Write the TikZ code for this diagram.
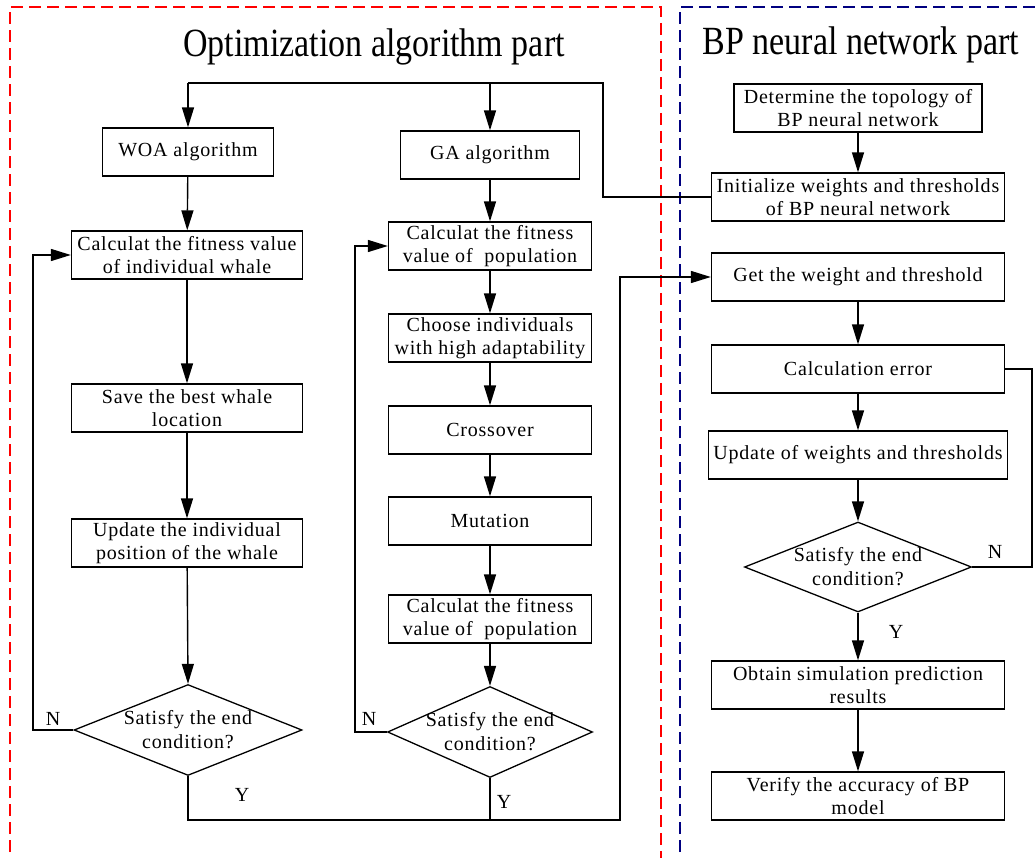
\documentclass[tikz,border=0pt]{standalone}
\usepackage{fontspec}
\setmainfont{Liberation Serif}[LetterSpace=4]
\newfontfamily\titlefont{Liberation Serif}[FakeStretch=0.85]
\usetikzlibrary{arrows.meta,shapes.geometric}
\begin{document}
\begin{tikzpicture}[x=1pt,y=-1pt,
  box/.style={draw,line width=1.3pt,minimum height=48pt,inner sep=0pt,align=center,font=\fontsize{20}{23}\selectfont},
  dia/.style={draw,diamond,line width=1.3pt,inner sep=0pt,minimum width=228pt,minimum height=91pt},
  dtext/.style={align=center,font=\fontsize{20}{24}\selectfont},
  conn/.style={line width=1.4pt},
  arr/.style={conn,-{Triangle[length=20pt,width=12pt]}},
  lab/.style={font=\fontsize{20}{22}\selectfont,inner sep=0pt},
  title/.style={font=\titlefont\fontsize{40}{44}\selectfont,inner sep=0pt}]
\useasboundingbox (0,0) rectangle (1036,858);
\clip (0,0) rectangle (1036,858);
% part frames
\draw[red,line width=1.4pt,dash pattern=on 12pt off 6pt] (10,870) -- (10,7) -- (661,7) -- (661,870);
\draw[blue!50!black,line width=1.4pt,dash pattern=on 12pt off 6pt] (680,870) -- (680,7) -- (1045,7);
\node[title] (t1) at (374,47) {Optimization algorithm part};
\node[title] (t2) at (861,45) {BP neural network part};
% WOA column
\node[box,minimum width=171pt] (woa) at (188,152) {WOA algorithm};
\node[box,minimum width=231pt] (wc) at (187,255) {Calculat the fitness value\\of individual whale};
\node[box,minimum width=231pt] (ws) at (187,408) {Save the best whale\\location};
\node[box,minimum width=231pt] (wu) at (187,543) {Update the individual\\position of the whale};
\node[dia] (wd) at (188,730) {};
\node[dtext] (wdt) at (188,730) {Satisfy the end\\condition?};
% GA column
\node[box,minimum width=179pt] (ga) at (490,155) {GA algorithm};
\node[box,minimum width=203pt] (gc) at (490,246) {Calculat the fitness\\value of\ \ population};
\node[box,minimum width=203pt] (gch) at (490,338) {Choose individuals\\with high adaptability};
\node[box,minimum width=203pt] (gx) at (490,430) {Crossover};
\node[box,minimum width=203pt] (gm) at (490,521) {Mutation};
\node[box,minimum width=203pt] (gc2) at (490,619) {Calculat the fitness\\value of\ \ population};
\node[dia,minimum width=205pt] (gd) at (490,732) {};
\node[dtext] (gdt) at (490,732) {Satisfy the end\\condition?};
% BP column
\node[box,minimum width=248pt] (top) at (858,108) {Determine the topology of\\BP neural network};
\node[box,minimum width=293pt] (ini) at (858,197) {Initialize weights and thresholds\\of BP neural network};
\node[box,minimum width=293pt] (get) at (858,277) {Get the weight and threshold};
\node[box,minimum width=293pt] (err) at (858,369) {Calculation error};
\node[box,minimum width=299pt] (upd) at (858,455) {Update of weights and thresholds};
\node[dia,minimum width=227pt,minimum height=90pt] (bd) at (858,567) {};
\node[dtext] (bdt) at (858,567) {Satisfy the end\\condition?};
\node[box,minimum width=293pt] (obt) at (858,685) {Obtain simulation prediction\\results};
\node[box,minimum width=293pt] (ver) at (858,796) {Verify the accuracy of BP\\model};
% top distribution line
\coordinate (c1) at (188,83);
\coordinate (c2) at (603,83);
\draw[conn] (ini.west) -| (c2) -- (c1);
\draw[arr] (c1) -- (woa.north);
\draw[arr] (ga.north |- c1) -- (ga.north);
% WOA flow
\draw[arr] (woa) -- (wc);
\draw[arr] (wc) -- (ws);
\draw[arr] (ws) -- (wu);
\draw[arr] (wu) -- (wd.north);
\coordinate (wn) at (33,730);
\draw[arr] (wd.west) -- (wn) |- (wc.west);
\node[lab] (wN) at (53,719) {N};
% GA flow
\draw[arr] (ga) -- (gc);
\draw[arr] (gc) -- (gch);
\draw[arr] (gch) -- (gx);
\draw[arr] (gx) -- (gm);
\draw[arr] (gm) -- (gc2);
\draw[arr] (gc2) -- (gd.north);
\coordinate (gn) at (355,732);
\draw[arr] (gd.west) -- (gn) |- (gc.west);
\node[lab] (gN) at (369,719) {N};
% Y join to BP
\coordinate (b1) at (188,820);
\coordinate (b2) at (620,820);
\draw[arr] (wd.south) -- (b1) -- (b2) |- (get.west);
\draw[conn] (gd.south) -- (gd.south |- b1);
\node[lab] (wY) at (242,795) {Y};
\node[lab] (gY) at (504,802) {Y};
% BP flow
\draw[arr] (top) -- (ini);
\draw[arr] (get) -- (err);
\draw[arr] (err) -- (upd);
\draw[arr] (upd) -- (bd.north);
\draw[arr] (bd.south) -- (obt);
\draw[arr] (obt) -- (ver);
\coordinate (bn) at (1032,567);
\draw[conn] (bd.east) -- (bn) |- (err.east);
\node[lab] (bN) at (995,552) {N};
\node[lab] (bY) at (896,632) {Y};
\end{tikzpicture}
\end{document}
